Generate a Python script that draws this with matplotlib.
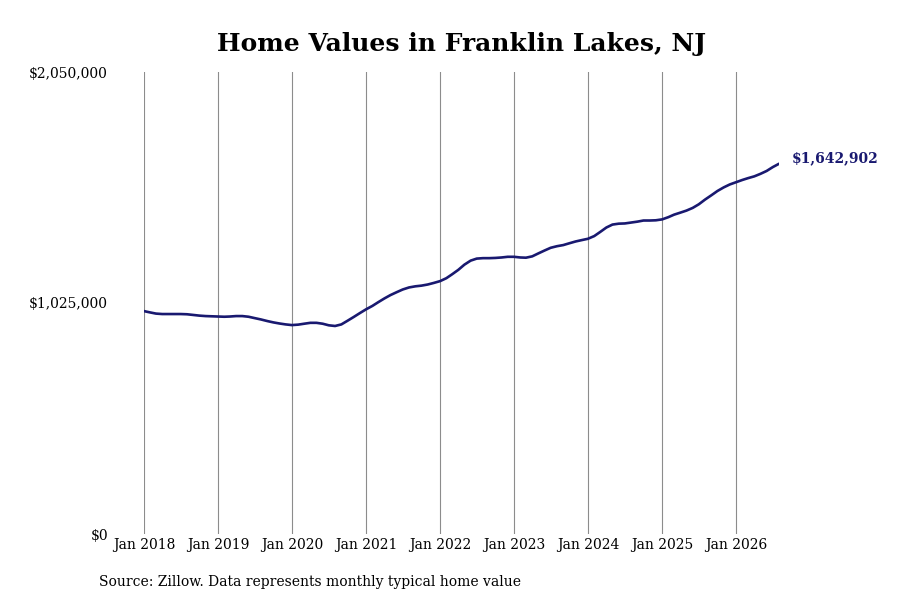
import numpy as np
import pandas as pd
import matplotlib
matplotlib.use('Agg')
import matplotlib.pyplot as plt

plt.rcParams['font.family'] = ['DejaVu Serif']

# typical home value, monthly, Jan 2018 - Aug 2026 (thousands of $)
values_k = [
    989, 983, 978, 976, 976, 976, 976, 975, 972, 969, 967, 966,          # 2018
    965, 964, 965, 967, 967, 964, 958, 952, 945, 939, 934, 930,          # 2019
    927, 929, 933, 937, 937, 933, 926, 923, 930, 946, 963, 980,          # 2020
    997, 1012, 1028, 1045, 1060, 1073, 1085, 1094, 1099, 1102, 1107, 1114,  # 2021
    1122, 1135, 1152, 1172, 1195, 1213, 1222, 1224, 1224, 1225, 1227, 1230,  # 2022
    1230, 1227, 1226, 1232, 1245, 1258, 1270, 1277, 1282, 1290, 1298, 1304,  # 2023
    1310, 1322, 1340, 1360, 1373, 1377, 1378, 1382, 1386, 1391, 1391, 1392,  # 2024
    1396, 1406, 1417, 1426, 1435, 1447, 1463, 1484, 1503, 1522, 1538, 1551,  # 2025
    1561, 1571, 1579, 1587, 1598, 1611, 1628, 1642.902,                    # 2026
]
dates = pd.date_range('2018-01-01', periods=len(values_k), freq='MS')
values = np.array(values_k) * 1000

last_label = '$1,642,902'
yticks = [0, 1025000, 2050000]
ytick_labels = ['$0', '$1,025,000', '$2,050,000']
xtick_years = list(range(2018, 2027))

fig = plt.figure(figsize=(9, 6), dpi=100)
ax = fig.add_axes([0.16, 0.11, 0.7056, 0.77])

ax.plot(dates, values, color='#191970', linewidth=1.9, solid_capstyle='round')

ax.set_xlim(dates[0], dates[-1])
ax.set_ylim(0, 2050000)

xt = [pd.Timestamp(f'{y}-01-01') for y in xtick_years]
ax.set_xticks(xt)
ax.set_xticklabels([f'Jan {y}' for y in xtick_years], fontsize=10)
ax.set_yticks(yticks)
ax.set_yticklabels(ytick_labels, fontsize=10)
ax.tick_params(axis='x', length=0, pad=3)
ax.tick_params(axis='y', length=0, pad=26)

ax.grid(axis='x', color='#8c8c8c', linewidth=0.8)
ax.set_axisbelow(True)
for s in ax.spines.values():
    s.set_visible(False)

ax.annotate(last_label, xy=(dates[-1], values[-1]), xytext=(9, 4),
            textcoords='offset points', fontsize=10, fontweight='bold',
            color='#191970', va='center', ha='left', annotation_clip=False)

fig.text(0.513, 0.927, 'Home Values in Franklin Lakes, NJ', ha='center', va='center',
         fontsize=18, fontweight='bold')
fig.text(0.11, 0.03, 'Source: Zillow. Data represents monthly typical home value',
         ha='left', va='center', fontsize=10)

fig.savefig('out.png', dpi=100)
